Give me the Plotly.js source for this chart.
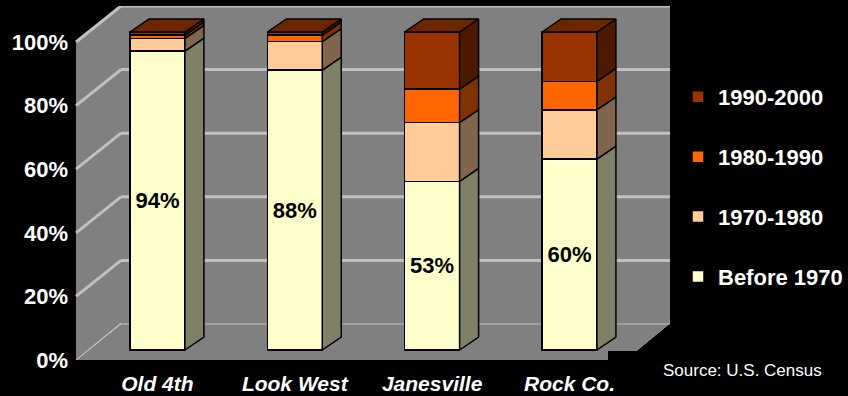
<!DOCTYPE html>
<html>
<head>
<meta charset="utf-8">
<script src="https://cdn.plot.ly/plotly-3.0.1.min.js"></script>
<style>html,body{margin:0;padding:0;background:#000;}#chart{width:848px;height:396px;}</style>
</head>
<body>
<div id="chart"></div>
<script>
// ---- data ----
const categories = ['Old 4th', 'Look West', 'Janesville', 'Rock Co.'];
const seriesNames = ['Before 1970', '1970-1980', '1980-1990', '1990-2000'];
const before1970 = [94, 88, 53, 60];
const y1970to1980 = [4, 9, 18.5, 15.5];
const y1980to1990 = [1, 2, 10.5, 9];
const y1990to2000 = [1, 1, 18, 15.5];
const yTicks = [0, 20, 40, 60, 80, 100];
const yTickText = ['0%', '20%', '40%', '60%', '80%', '100%'];
const barLabels = ['94%', '88%', '53%', '60%'];

// ---- styles ----
const frontColors = ['#FFFFCC', '#FFCC99', '#FF6600', '#993300'];
const sideColors = ['#808066', '#80664D', '#803300', '#4D1A00'];
const topColor = '#6B2600';
const W = 848, H = 396;
const M = {l: 76, r: 178, t: 6, b: 36, autoexpand: false};
const PW = W - M.l - M.r, PH = H - M.t - M.b;
const px = p => (p - M.l) / PW;           // pixel x -> paper
const py = p => (H - M.b - p) / PH;       // pixel y -> paper
const barW = 0.4;
const yRange = [-10 / 3.18, 100 + 26 / 3.18];
const xRange = [-0.593, 3.732];
const unitX = PW / (xRange[1] - xRange[0]);
const unitY = PH / (yRange[1] - yRange[0]);
const dx = 19 / unitX, dy = 13 / unitY;

const series = [before1970, y1970to1980, y1980to1990, y1990to2000];
const xs = categories.map((c, i) => i);

const traces = [];
series.forEach((vals, s) => {
  traces.push({
    type: 'bar', x: xs, y: vals, name: seriesNames[s], width: barW,
    legendgroup: 'g' + s, legendrank: 1000 + (series.length - s),
    marker: {color: frontColors[s], line: {color: '#000', width: 1.5}},
    text: s === 0 ? barLabels : undefined,
    textposition: s === 0 ? 'inside' : 'none',
    insidetextanchor: 'middle', constraintext: 'none', textangle: 0,
    insidetextfont: {family: 'Liberation Sans, Arial, sans-serif', size: 22, color: '#000', weight: 'bold'},
    hoverinfo: 'skip'
  });
});

// side faces (computed from data)
const bases = xs.map(() => 0);
series.forEach((vals, s) => {
  const X = [], Y = [];
  xs.forEach((x, i) => {
    const b = bases[i], t = b + vals[i];
    const xr = x + barW / 2;
    X.push(xr, xr + dx, xr + dx, xr, xr, null);
    Y.push(b, b + dy, t + dy, t, b, null);
    bases[i] = t;
  });
  traces.push({type: 'scatter', mode: 'lines', x: X, y: Y, fill: 'toself',
    fillcolor: sideColors[s], line: {color: '#000', width: 1.5},
    showlegend: false, hoverinfo: 'skip'});
});
// top faces
{
  const X = [], Y = [];
  xs.forEach((x, i) => {
    const t = bases[i];
    const xl = x - barW / 2, xr = x + barW / 2;
    X.push(xl, xl + dx, xr + dx, xr, xl, null);
    Y.push(t, t + dy, t + dy, t, t, null);
  });
  traces.push({type: 'scatter', mode: 'lines', x: X, y: Y, fill: 'toself',
    fillcolor: topColor, line: {color: '#000', width: 1.5},
    showlegend: false, hoverinfo: 'skip'});
}

// ---- walls / grid (decoration) ----
const shapes = [];
const wall = [[76,43],[121,6],[670,6],[670,323],[625,360],[76,360]];
shapes.push({type: 'path', xref: 'paper', yref: 'paper', layer: 'below',
  path: 'M' + wall.map(p => px(p[0]) + ',' + py(p[1])).join('L') + 'Z',
  fillcolor: '#808080', line: {width: 0}});
shapes.push({type: 'line', xref: 'paper', yref: 'paper', layer: 'below',
  x0: px(76), y0: py(360), x1: px(121), y1: py(323), line: {color: '#c8c8c8', width: 1}});
shapes.push({type: 'line', xref: 'paper', yref: 'paper', layer: 'below',
  x0: px(625), y0: py(360), x1: px(670), y1: py(323), line: {color: '#a0a0a0', width: 1}});
yTicks.forEach(t => {
  const w = t === 0 ? 1 : 3;
  shapes.push({type: 'line', xref: 'paper', yref: 'y', ysizemode: 'pixel', yanchor: t,
    layer: 'below', x0: px(121), x1: 1, y0: 26, y1: 26, line: {color: '#c0c0c0', width: w}});
  shapes.push({type: 'line', xref: 'paper', yref: 'y', ysizemode: 'pixel', yanchor: t,
    layer: 'below', x0: 0, x1: px(121), y0: -10, y1: 26, line: {color: '#c0c0c0', width: w}});
});
shapes.push({type: 'rect', xref: 'paper', yref: 'paper', layer: 'below',
  x0: px(608), x1: px(848), y0: py(351), y1: py(396), fillcolor: '#000', line: {width: 0}});

const layout = {
  width: W, height: H,
  margin: M,
  paper_bgcolor: '#000', plot_bgcolor: 'rgba(0,0,0,0)',
  barmode: 'stack',
  showlegend: true,
  font: {family: 'Liberation Sans, Arial, sans-serif', color: '#fff'},
  xaxis: {range: xRange, tickmode: 'array', tickvals: xs, ticktext: categories,
    showgrid: false, zeroline: false, showline: false, ticks: '',
    ticklabelstandoff: 9,
    tickfont: {size: 21, color: '#fff', weight: 'bold', style: 'italic'}},
  yaxis: {range: yRange, tickmode: 'array', tickvals: yTicks, ticktext: yTickText,
    showgrid: false, zeroline: false, showline: false, ticks: '',
    ticklabelstandoff: 7, ticklabelshift: 10,
    tickfont: {size: 22, color: '#fff', weight: 'bold'}},
  legend: {x: px(678), xanchor: 'left', y: py(76), yanchor: 'top',
    traceorder: 'grouped', tracegroupgap: 28.3,
    bgcolor: 'rgba(0,0,0,0)', font: {size: 22, color: '#fff', weight: 'bold'}},
  shapes: shapes,
  annotations: [{xref: 'paper', yref: 'paper', x: px(661), y: py(370), xanchor: 'left', yanchor: 'middle',
    text: 'Source: U.S. Census', showarrow: false,
    font: {family: 'Liberation Sans, Arial, sans-serif', size: 17, color: '#fff'}}]
};

Plotly.newPlot('chart', traces, layout, {displayModeBar: false, staticPlot: true});
</script>
</body>
</html>
